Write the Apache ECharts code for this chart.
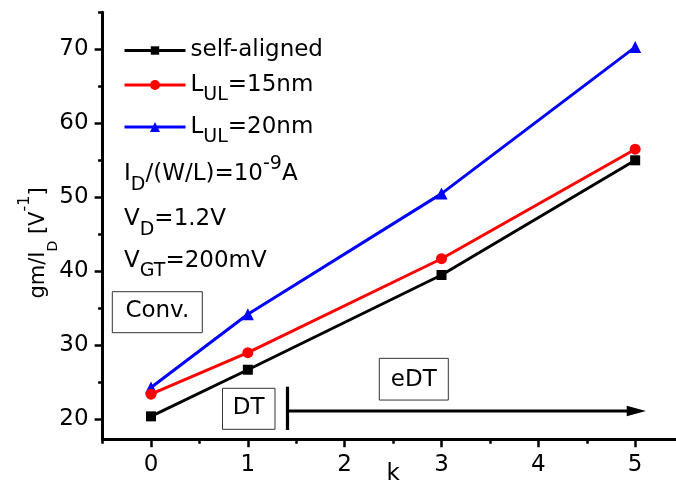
<!DOCTYPE html>
<html><head><meta charset="utf-8">
<script src="https://cdn.jsdelivr.net/npm/echarts@6/dist/echarts.min.js"></script>
<style>html,body{margin:0;padding:0;background:#fff}#c{width:676px;height:486px}</style>
</head><body><div id="c"></div>
<script>
// ---- data ----
const kValues = [0, 1, 3, 5];
const selfAligned = [20.4, 26.7, 39.5, 55.0];
const lul15 = [23.4, 29.0, 41.7, 56.5];
const lul20 = [24.3, 34.2, 50.5, 70.3];
const seriesNames = ['self-aligned', 'L_UL=15nm', 'L_UL=20nm'];
const xTicks = [0, 1, 2, 3, 4, 5];
const xMinorTicks = [-0.5, 0.5, 1.5, 2.5, 3.5, 4.5, 5.5];
const yTicks = [20, 30, 40, 50, 60, 70];
const yMinorTicks = [25, 35, 45, 55, 65, 75];

const FONT = 'DejaVu Sans';
const pairs = vals => kValues.map((k, i) => [k, vals[i]]);

const richMain = {
  a: {fontSize: 23, fontFamily: FONT, color: '#000', lineHeight: 40},
  s: {fontSize: 19, fontFamily: FONT, color: '#000', lineHeight: 19, verticalAlign: 'bottom'},
  p: {fontSize: 19, fontFamily: FONT, color: '#000', lineHeight: 31, verticalAlign: 'top'}
};
const richTitle = {
  a: {fontSize: 21, fontFamily: FONT, color: '#000', lineHeight: 44},
  s: {fontSize: 14, fontFamily: FONT, color: '#000', lineHeight: 23, verticalAlign: 'bottom'},
  p: {fontSize: 16, fontFamily: FONT, color: '#000', lineHeight: 6, verticalAlign: 'top'}
};

const axisCommonY = {
  type: 'value', min: 17.3, max: 75, position: 'left',
  splitLine: {show: false}
};
const axisCommonX = {
  type: 'value', min: -0.5, max: 5.5, position: 'bottom',
  splitLine: {show: false}
};

const chart = echarts.init(document.getElementById('c'), null, {renderer: 'canvas'});

function boxText(cx, cy, w, h, txt, ty) {
  return [
    {type: 'rect', shape: {x: cx - w / 2, y: cy - h / 2, width: w, height: h},
     style: {fill: '#fff', stroke: '#333', lineWidth: 1}, z: 10},
    {type: 'text', x: cx, y: ty, z: 11,
     style: {text: txt, fontSize: 23, fontFamily: FONT, fill: '#000', align: 'center', verticalAlign: 'middle'}}
  ];
}

const legendBase = {
  left: 123, orient: 'vertical', padding: 0, itemWidth: 61, selectedMode: false,
  lineStyle: {width: 3},
  textStyle: {fontSize: 23, fontFamily: FONT, color: '#000', lineHeight: 28, rich: richMain}
};

chart.setOption({
  backgroundColor: '#fff',
  animation: false,
  grid: {left: 102.6, top: 12.3, width: 581, height: 427, containLabel: false, outerBoundsMode: 'none'},
  xAxis: [
    Object.assign({}, axisCommonX, {
      axisLine: {onZero: false, lineStyle: {color: '#000', width: 3}},
      axisTick: {customValues: xTicks, length: 8, lineStyle: {color: '#000', width: 2.5}},
      axisLabel: {customValues: xTicks, margin: 13, fontSize: 23, fontFamily: FONT, color: '#000', lineHeight: 26},
      name: 'k', nameLocation: 'middle', nameGap: 22, nameMoveOverlap: false,
      nameTextStyle: {fontSize: 23, fontFamily: FONT, color: '#000', lineHeight: 26}
    }),
    Object.assign({}, axisCommonX, {
      axisLine: {show: false, onZero: false},
      axisTick: {customValues: xMinorTicks, length: 4.5, lineStyle: {color: '#000', width: 2.5}},
      axisLabel: {show: false}
    })
  ],
  yAxis: [
    Object.assign({}, axisCommonY, {
      axisLine: {show: true, onZero: false, lineStyle: {color: '#000', width: 3}},
      axisTick: {show: true, customValues: yTicks, length: 8, lineStyle: {color: '#000', width: 2.5}},
      axisLabel: {customValues: yTicks, margin: 14, fontSize: 23, fontFamily: FONT, color: '#000'}
    }),
    Object.assign({}, axisCommonY, {
      axisLine: {show: false, onZero: false},
      axisTick: {show: true, customValues: yMinorTicks, length: 4.5, lineStyle: {color: '#000', width: 2.5}},
      axisLabel: {show: false}
    })
  ],
  legend: [
    Object.assign({}, legendBase, {data: [seriesNames[0]], top: 36.5, itemHeight: 10.5}),
    Object.assign({}, legendBase, {data: [seriesNames[1]], top: 65, itemHeight: 12.5,
      formatter: '{a|L}{s|UL}{a|=15nm}'}),
    Object.assign({}, legendBase, {data: [seriesNames[2]], top: 107, itemHeight: 12.5,
      formatter: '{a|L}{s|UL}{a|=20nm}'})
  ],
  series: [
    {name: seriesNames[0], type: 'line', data: pairs(selfAligned), z: 4,
     symbol: 'rect', symbolSize: 10, color: '#000',
     lineStyle: {width: 3, color: '#000'}, itemStyle: {color: '#000'}},
    {name: seriesNames[1], type: 'line', data: pairs(lul15), z: 4,
     symbol: 'circle', symbolSize: 11, color: '#ff0000',
     lineStyle: {width: 3, color: '#ff0000'}, itemStyle: {color: '#ff0000'}},
    {name: seriesNames[2], type: 'line', data: pairs(lul20), z: 3,
     symbol: 'triangle', symbolSize: 12, color: '#0000ff',
     lineStyle: {width: 3, color: '#0000ff'}, itemStyle: {color: '#0000ff'}}
  ],
  graphic: [
    {type: 'text', x: 38.5, y: 243, rotation: Math.PI / 2,
     style: {text: '{a|gm/I}{s|D}{a| [V}{p|-1}{a|]}', rich: richTitle, align: 'center', verticalAlign: 'middle'}},
    {type: 'text', x: 124, y: 174.2,
     style: {text: '{a|I}{s|D}{a|/(W/L)=10}{p|-9}{a|A}', rich: richMain, align: 'left', verticalAlign: 'middle'}},
    {type: 'text', x: 124, y: 219.2,
     style: {text: '{a|V}{s|D}{a|=1.2V}', rich: richMain, align: 'left', verticalAlign: 'middle'}},
    {type: 'text', x: 124, y: 260.8,
     style: {text: '{a|V}{s|GT}{a|=200mV}', rich: richMain, align: 'left', verticalAlign: 'middle'}},
    ...boxText(157.3, 312.2, 90, 41, 'Conv.', 311),
    ...boxText(248.75, 408.8, 52.5, 41, 'DT', 408.5),
    ...boxText(413.8, 379.2, 69, 41.7, 'eDT', 380),
    {type: 'line', shape: {x1: 287.5, y1: 386.7, x2: 287.5, y2: 430}, style: {stroke: '#000', lineWidth: 3.2}},
    {type: 'line', shape: {x1: 289, y1: 411, x2: 630, y2: 411}, style: {stroke: '#000', lineWidth: 3.2}},
    {type: 'polygon', shape: {points: [[626.7, 405.8], [646, 411], [626.7, 416.2]]}, style: {fill: '#000'}}
  ]
});
</script>
</body></html>
